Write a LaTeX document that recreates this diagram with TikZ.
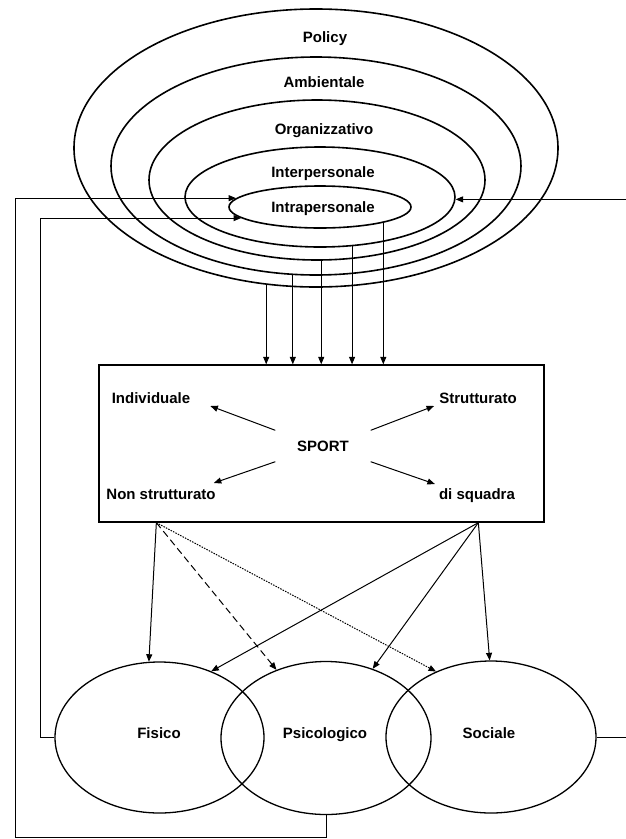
\documentclass[tikz,border=0pt]{standalone}
\usepackage{fontspec}
\setmainfont{Liberation Sans}
\usetikzlibrary{shapes.geometric,arrows.meta,calc}
\begin{document}
\begin{tikzpicture}[x=1pt,y=-1pt,
  lab/.style={font=\fontsize{15}{17}\selectfont\bfseries, inner sep=0pt, text height=10.8pt, text depth=0pt},
  ring/.style={draw, ellipse, line width=1.6pt, inner sep=0pt},
  circ/.style={draw, ellipse, line width=1.3pt, inner sep=0pt},
  arr/.style={line width=1pt, -{Triangle[length=7.5pt,width=6pt]}}]
\useasboundingbox (0,0) rectangle (625,839);
% nested ellipses
\node[ring, minimum width=484pt, minimum height=278pt] (policy) at (316,148) {};
\node[ring, minimum width=410pt, minimum height=218pt] (amb) at (316,166) {};
\node[ring, minimum width=336pt, minimum height=160pt] (org) at (317,180) {};
\node[ring, minimum width=270pt, minimum height=100pt] (inter) at (320,197) {};
\node[ring, minimum width=182pt, minimum height=42pt] (intra) at (320,207) {};
\node[lab] (tpolicy) at (325,37) {Policy};
\node[lab] (tamb) at (324,82) {Ambientale};
\node[lab] (torg) at (324,129) {Organizzativo};
\node[lab] (tinter) at (323,172) {Interpersonale};
\node[lab] (tintra) at (323,207) {Intrapersonale};
% sport box
\node[draw, line width=1.3pt, minimum width=445pt, minimum height=157pt, inner sep=0pt] (box) at (321.5,443.5) {};
\node[lab] (indiv) at (151,398) {Individuale};
\node[lab] (strutt) at (478,398) {Strutturato};
\node[lab] (nons) at (161,494) {Non strutturato};
\node[lab] (squad) at (477,494) {di squadra};
\node[lab, minimum width=95pt, minimum height=31pt] (sport) at (323,446) {SPORT};
\draw[arr] (sport.north west) -- ($(indiv.east)+(20,8)$);
\draw[arr] (sport.north east) -- ($(strutt.west)+(-5,8)$);
\draw[arr] (sport.south west) -- ($(nons.east)+(-2,-11)$);
\draw[arr] (sport.south east) -- ($(squad.west)+(-4,-10)$);
% vertical arrows from rings to box
\foreach \n/\a in {policy/-110.9, amb/-102, org/-87.1, inter/-57.5, intra/-14.3}
  \draw[arr] (\n.\a) -- (\n.\a |- box.north);
% outcome ellipses
\node[circ, minimum width=209pt, minimum height=151pt] (fisico) at (159.5,737.5) {};
\node[circ, minimum width=210pt, minimum height=153pt] (psico) at (326,738) {};
\node[circ, minimum width=210pt, minimum height=152pt] (sociale) at (491,737) {};
\node[lab] (tfis) at (159,733) {Fisico};
\node[lab] (tpsi) at (325,733) {Psicologico};
\node[lab] (tsoc) at (489,733) {Sociale};
% arrows from box
\coordinate (bl) at ($(box.south west)+(58,0)$);
\coordinate (br) at ($(box.south west)+(380,0)$);
\draw[arr] (bl) -- (fisico.98);
\draw[arr, dash pattern=on 7pt off 4pt] (bl) -- (psico.126);
\draw[arr, dash pattern=on 1.5pt off 1.2pt] (bl) -- (sociale.130);
\draw[arr] (br) -- (fisico.52);
\draw[arr] (br) -- (psico.56);
\draw[arr] (br) -- (sociale.91);
% feedback loops
\coordinate (c1) at (15,837);
\draw[arr] (psico.south) |- (c1) |- (intra.174);
\draw[arr] (fisico.west) -- ++(-14,0) |- (intra.-172);
\draw[arr] (sociale.east) -- ++(40,0) |- (inter.-1.3);
\end{tikzpicture}
\end{document}
